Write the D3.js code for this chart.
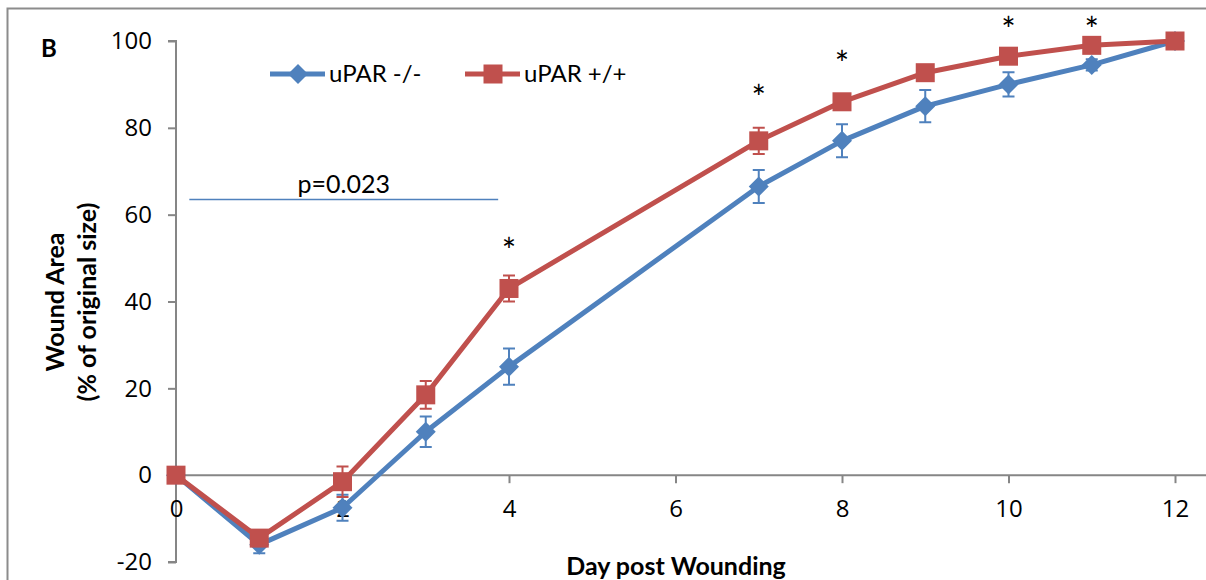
<!DOCTYPE html>
<head>
<meta charset="utf-8">
<title>Wound Area</title>
<style>
body {
  margin: 0;
  padding: 0;
  background: #fff;
}
svg text {
  font-family: Lato, "Open Sans", sans-serif;
  fill: #000;
}
.tick text {
  font-family: "Open Sans", Lato, sans-serif;
  font-size: 24px;
}
</style>
</head>
<body>
<svg id="viz" width="1206" height="580"></svg>
<script src="https://d3js.org/d3.v7.min.js"></script>
<script>
// values
var days = [0, 1, 2, 3, 4, 7, 8, 9, 10, 11, 12]
var koMean = [0, -16, -7.5, 10, 25, 66.5, 77, 85, 90, 94.5, 100]
var koErr  = [0, 2, 3, 3.5, 4.2, 3.8, 3.8, 3.7, 2.8, 1.3, 0]
var wtMean = [0, -14.5, -1.5, 18.5, 43, 77, 86, 92.7, 96.5, 99, 100]
var wtErr  = [0, 1.2, 3.5, 3.2, 3, 3, 1, 1, 1, 1, 0]
var starDays = [4, 7, 8, 10, 11]
var starY = [52.6, 87.8, 95.6, 103.5, 103.5]
var xTicks = [0, 2, 4, 6, 8, 10, 12]
var yTicks = [-20, 0, 20, 40, 60, 80, 100]
var pLine = {x0: 0.16, x1: 3.87, y: 63.5, label: 'p=0.023'}

var blue = '#4f81bd', red = '#c0504d'

var svg = d3.select('#viz')

// frame
svg.append('rect')
  .attr('x', 7.5).attr('y', 8.5)
  .attr('width', 1210).attr('height', 600)
  .attr('fill', 'none')
  .attr('stroke', '#8c8c8c')
  .attr('stroke-width', 2)

var x = d3.scaleLinear().domain([0, 12]).range([176, 1175])
var y = d3.scaleLinear().domain([-20, 100]).range([562, 41])

// y axis
var yAxis = svg.append('g')
  .attr('transform', 'translate(' + x(0) + ',0)')
  .call(d3.axisLeft(y).tickValues(yTicks).tickSize(8).tickPadding(16)
    .tickFormat(function(d) { return String(d) }))
yAxis.select('.domain').attr('stroke', '#868686').attr('stroke-width', 2)
  .attr('d', 'M-8,' + y(100) + 'H0V' + y(-20) + 'H-8')
yAxis.selectAll('.tick line').attr('stroke', '#868686').attr('stroke-width', 2)

// x axis on zero line
var xAxis = svg.append('g')
  .attr('transform', 'translate(0,' + y(0) + ')')
  .call(d3.axisBottom(x).tickValues(xTicks).tickSize(8))
xAxis.select('.domain').attr('stroke', '#868686').attr('stroke-width', 2)
  .attr('d', 'M' + x(0) + ',0H1206')
xAxis.selectAll('.tick line').attr('stroke', '#868686').attr('stroke-width', 2)
xAxis.selectAll('.tick text').attr('y', 42).attr('dy', 0)

// axis titles
svg.append('text')
  .attr('x', 676).attr('y', 575)
  .attr('text-anchor', 'middle')
  .attr('font-weight', 'bold')
  .attr('font-size', 25)
  .text('Day post Wounding')

var yt = svg.append('text')
  .attr('transform', 'translate(64,302) rotate(-90)')
  .attr('text-anchor', 'middle')
  .attr('font-weight', 'bold')
  .attr('font-size', 25)
yt.append('tspan').attr('x', 0).attr('dy', 0).text('Wound Area')
yt.append('tspan').attr('x', 0).attr('dy', 32).text('(% of original size)')

svg.append('text')
  .attr('x', 41).attr('y', 57)
  .attr('font-weight', 'bold')
  .attr('font-size', 24)
  .text('B')

// p-value line
svg.append('line')
  .attr('x1', x(pLine.x0)).attr('x2', x(pLine.x1))
  .attr('y1', y(pLine.y)).attr('y2', y(pLine.y))
  .attr('stroke', blue).attr('stroke-width', 1.5)
svg.append('text')
  .attr('x', (x(pLine.x0) + x(pLine.x1)) / 2)
  .attr('y', y(pLine.y) - 6)
  .attr('text-anchor', 'middle')
  .attr('font-size', 25)
  .text(pLine.label)

var series = [
  {name: 'uPAR -/-', mean: koMean, err: koErr, color: blue, shape: 'diamond'},
  {name: 'uPAR +/+', mean: wtMean, err: wtErr, color: red, shape: 'square'}
]

function marker(g, s, cx, cy) {
  if (s.shape === 'square') {
    g.append('rect')
      .attr('x', cx - 9.5).attr('y', cy - 9.5)
      .attr('width', 19).attr('height', 19)
      .attr('fill', s.color)
  } else {
    g.append('path')
      .attr('d', 'M' + cx + ',' + (cy - 10) + 'L' + (cx + 10) + ',' + cy +
        'L' + cx + ',' + (cy + 10) + 'L' + (cx - 10) + ',' + cy + 'Z')
      .attr('fill', s.color)
  }
}

var line = d3.line()
  .x(function(d) { return x(d[0]) })
  .y(function(d) { return y(d[1]) })

series.forEach(function(s) {
  var g = svg.append('g')
  var pts = days.map(function(d, i) { return [d, s.mean[i]] })

  // error bars
  days.forEach(function(d, i) {
    if (!s.err[i]) return
    var cx = x(d), top = y(s.mean[i] + s.err[i]), bot = y(s.mean[i] - s.err[i])
    g.append('path')
      .attr('d', 'M' + cx + ',' + top + 'V' + bot +
        'M' + (cx - 6) + ',' + top + 'H' + (cx + 6) +
        'M' + (cx - 6) + ',' + bot + 'H' + (cx + 6))
      .attr('stroke', s.color).attr('stroke-width', 2).attr('fill', 'none')
  })

  g.append('path')
    .datum(pts)
    .attr('d', line)
    .attr('fill', 'none')
    .attr('stroke', s.color)
    .attr('stroke-width', 5)
    .attr('stroke-linejoin', 'round')

  pts.forEach(function(p) { marker(g, s, x(p[0]), y(p[1])) })
})

// significance stars
starDays.forEach(function(d, i) {
  svg.append('text')
    .attr('x', x(d)).attr('y', y(starY[i]) + 16)
    .attr('text-anchor', 'middle')
    .attr('font-size', 34)
    .text('*')
})

// legend
var legX = [270, 465]
series.forEach(function(s, i) {
  var lg = svg.append('g')
  lg.append('line')
    .attr('x1', legX[i]).attr('x2', legX[i] + 55)
    .attr('y1', 74).attr('y2', 74)
    .attr('stroke', s.color).attr('stroke-width', 5)
  marker(lg, s, legX[i] + 28, 74)
  lg.append('text')
    .attr('x', legX[i] + 59).attr('y', 82)
    .attr('font-size', 24)
    .text(s.name)
})
</script>
</body>
</html>
